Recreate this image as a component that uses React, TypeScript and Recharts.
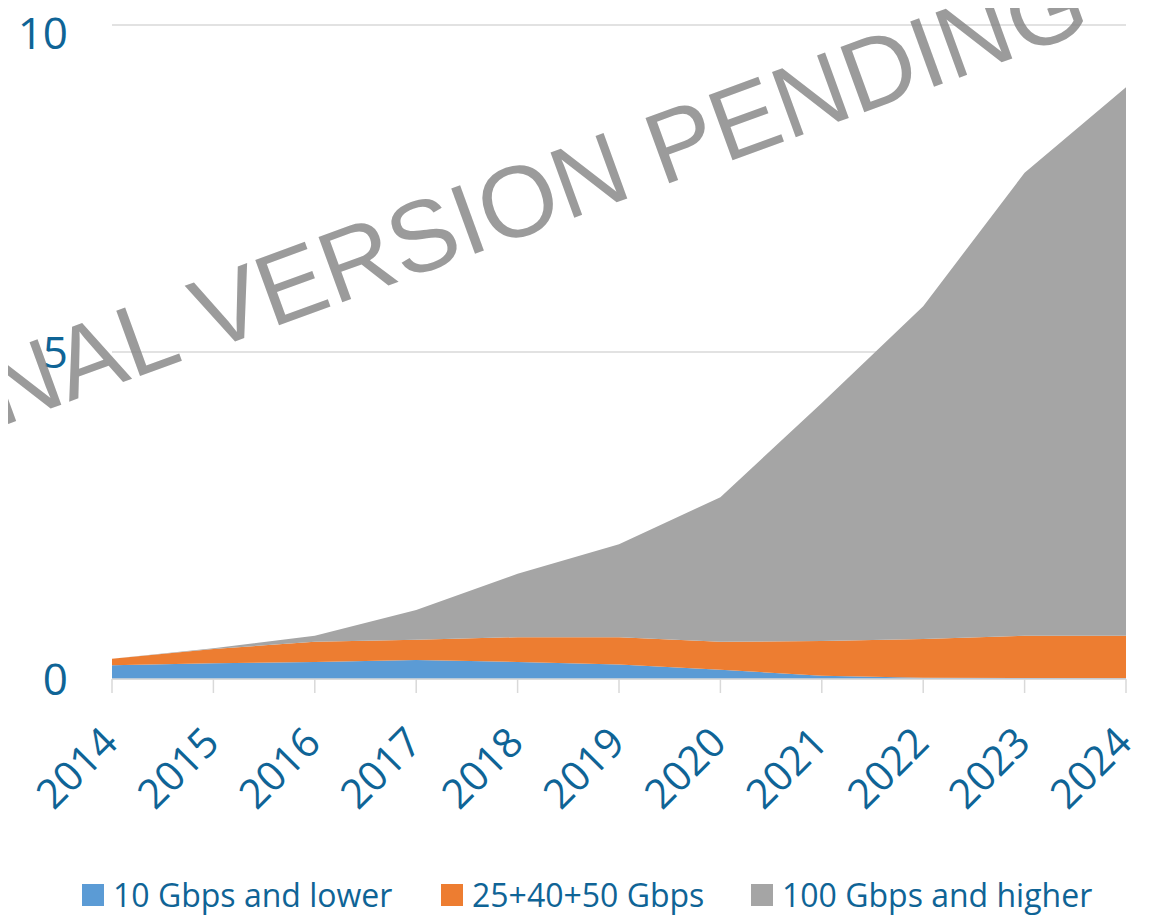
import { AreaChart, Area, XAxis, YAxis, CartesianGrid, Legend } from "recharts";

const years = ["2014", "2015", "2016", "2017", "2018", "2019", "2020", "2021", "2022", "2023", "2024"];
const low10 = [0.21, 0.24, 0.26, 0.29, 0.26, 0.22, 0.14, 0.05, 0.02, 0.015, 0.01];
const mid25 = [0.1, 0.22, 0.31, 0.31, 0.38, 0.42, 0.43, 0.53, 0.59, 0.645, 0.65];
const high100 = [0, 0.01, 0.09, 0.455, 0.97, 1.42, 2.21, 3.64, 5.09, 7.08, 8.39];
const yTicks = [0, 5, 10];

const SERIES = [
  { key: "low", name: "10 Gbps and lower", color: "#5B9BD5" },
  { key: "mid", name: "25+40+50 Gbps", color: "#ED7D31" },
  { key: "high", name: "100 Gbps and higher", color: "#A5A5A5" },
];

const TEXT = "#0F6496";
const GRID = "#d9d9d9";

const data = years.map((year, i) => ({
  year,
  low: low10[i],
  mid: mid25[i],
  high: high100[i],
}));

function XTick({ x, y, payload }: any) {
  return (
    <g transform={`translate(${x + 8},${y + 50})`}>
      <text
        textAnchor="end"
        transform="rotate(-45)"
        fill={TEXT}
        fontSize={41}
        fontFamily="'Open Sans', sans-serif"
      >
        {payload.value}
      </text>
    </g>
  );
}

const legendLeft = [74, 433, 743];

function LegendBox() {
  return (
    <div style={{ position: "relative", height: 40, width: "100%" }}>
      {SERIES.map((s, i) => (
        <div
          key={s.key}
          style={{
            position: "absolute",
            left: legendLeft[i],
            top: 0,
            height: 40,
            display: "flex",
            alignItems: "center",
            whiteSpace: "nowrap",
          }}
        >
          <span style={{ width: 22, height: 22, background: s.color, marginRight: 9, display: "inline-block" }} />
          <span style={{ color: TEXT, fontSize: 32, fontFamily: "'Open Sans', sans-serif", lineHeight: "40px" }}>
            {s.name}
          </span>
        </div>
      ))}
    </div>
  );
}

export default function App() {
  return (
    <div style={{ position: "relative", width: 1137, height: 907 }}>
      <AreaChart width={1137} height={907} data={data} margin={{ top: 17, right: 19, bottom: 0, left: 0 }}>
        <CartesianGrid vertical={false} stroke={GRID} strokeWidth={1.5} />
        <XAxis
          dataKey="year"
          height={196}
          interval={0}
          axisLine={{ stroke: GRID, strokeWidth: 1.5 }}
          tickLine={{ stroke: GRID, strokeWidth: 1.5 }}
          tickSize={14}
          tickMargin={2}
          tick={<XTick />}
        />
        <YAxis
          domain={[0, 10]}
          ticks={yTicks}
          width={104}
          axisLine={false}
          tickLine={false}
          tickSize={0}
          tickMargin={44}
          tick={{ fill: TEXT, fontSize: 44, fontFamily: "'Open Sans', sans-serif" }}
        />
        {SERIES.map((s) => (
          <Area
            key={s.key}
            type="linear"
            dataKey={s.key}
            name={s.name}
            stackId="1"
            fill={s.color}
            fillOpacity={1}
            stroke="none"
            isAnimationActive={false}
          />
        ))}
        <Legend verticalAlign="bottom" content={<LegendBox />} />
      </AreaChart>
      <svg
        width={1137}
        height={907}
        style={{ position: "absolute", left: 0, top: 0, pointerEvents: "none" }}
      >
        <text
          x={497}
          y={235}
          textAnchor="middle"
          transform="rotate(-20 497 235)"
          fontSize={101}
          fontFamily="'Liberation Sans', Arial, sans-serif"
          fill="#7f7f7f"
          fillOpacity={0.78}
        >
          FINAL VERSION PENDING
        </text>
      </svg>
    </div>
  );
}
